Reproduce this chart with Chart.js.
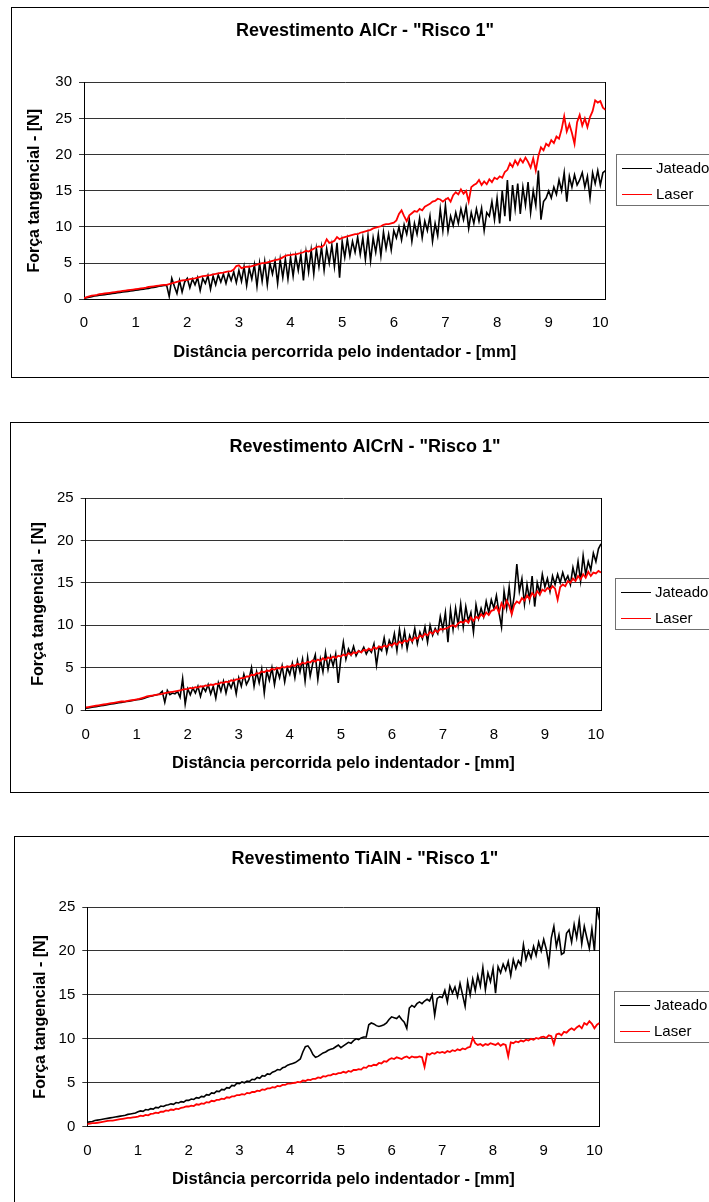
<!DOCTYPE html>
<html>
<head>
<meta charset="utf-8">
<title>Risco 1</title>
<script src="https://cdn.jsdelivr.net/npm/chart.js@4.4.1/dist/chart.umd.min.js"></script>
<style>
  html, body { margin: 0; padding: 0; background: #fff; }
  body { width: 709px; height: 1202px; overflow: hidden; position: relative; }
  .frame { position: absolute; border: 1px solid #000; box-sizing: border-box; width: 740px; height: 371px; }
  .holder { position: absolute; left: 0; width: 730px; height: 371px; }
  .holder canvas { display: block; }
</style>
</head>
<body>
<div class="frame" style="left:11px; top:7px;"></div>
<div class="holder" style="top:7px;"><canvas id="alcrChart" width="730" height="371"></canvas></div>

<div class="frame" style="left:10px; top:422px;"></div>
<div class="holder" style="top:422px;"><canvas id="alcrnChart" width="730" height="371"></canvas></div>

<div class="frame" style="left:14px; top:836px;"></div>
<div class="holder" style="top:836px;"><canvas id="tialnChart" width="730" height="371"></canvas></div>

<script>
// ====== data (force in N, sampled every 0.05 mm from 0 to 10.10 mm) ======
const distanceStep = 0.05;
const distanceTicks = [0, 1, 2, 3, 4, 5, 6, 7, 8, 9, 10];
const forceTicks30 = [0, 5, 10, 15, 20, 25, 30];
const forceTicks25 = [0, 5, 10, 15, 20, 25];
const seriesLabels = ["Jateado", "Laser"];
const seriesColors = ["#000000", "#ff0000"];
const chartTitles = [
  'Revestimento AlCr - "Risco 1"',
  'Revestimento AlCrN - "Risco 1"',
  'Revestimento TiAlN - "Risco 1"'
];
const xAxisTitle = "Distância percorrida pelo indentador - [mm]";
const yAxisTitle = "Força tangencial - [N]";

const alcrJateado = [
  0.1, 0.2, 0.3, 0.35, 0.45, 0.5, 0.55, 0.6, 0.65, 0.7, 0.75, 0.8, 0.85, 0.9, 0.95, 1.0, 1.05, 1.1, 1.15, 1.2,
  1.25, 1.3, 1.35, 1.4, 1.45, 1.5, 1.6, 1.65, 1.7, 1.8, 1.85, 1.9, 1.95, 0.4, 2.9, 1.8, 0.8, 2.6, 1.0, 2.4,
  2.9, 1.6, 2.8, 2.0, 3.0, 1.2, 2.9, 2.2, 3.3, 1.4, 3.2, 2.0, 3.4, 2.4, 3.5, 2.2, 3.6, 2.6, 3.8, 2.3,
  4.0, 2.5, 4.5, 1.9, 4.3, 2.8, 4.8, 1.8, 5.0, 2.5, 5.2, 2.0, 5.0, 3.5, 5.3, 2.2, 5.5, 3.0, 5.6, 2.8,
  5.8, 3.2, 6.0, 4.0, 6.2, 2.6, 6.5, 3.8, 6.8, 3.5, 7.0, 4.5, 7.2, 4.0, 7.0, 5.0, 7.5, 4.5, 7.8, 3.0,
  8.0, 5.8, 8.3, 6.0, 8.0, 6.5, 8.6, 6.2, 8.5, 5.5, 8.8, 5.3, 8.5, 6.5, 9.0, 6.0, 9.3, 7.0, 9.0, 6.8,
  9.5, 8.5, 10.0, 8.2, 10.3, 9.0, 11.0, 8.0, 10.5, 9.0, 11.2, 8.5, 10.8, 9.5, 11.5, 8.0, 10.5, 8.8, 12.5, 9.5,
  13.0, 9.4, 11.5, 10.2, 12.0, 10.5, 12.5, 11.0, 12.8, 9.8, 12.0, 10.5, 12.5, 10.8, 12.6, 9.5, 12.0, 11.5, 13.5, 11.0,
  14.0, 10.5, 15.0, 11.5, 16.5, 10.8, 15.8, 12.5, 16.0, 11.8, 15.5, 13.0, 16.2, 12.0, 15.0, 13.0, 17.8, 11.0, 13.5, 14.0,
  15.0, 14.0, 15.5, 14.5, 16.5, 15.0, 17.5, 13.5, 17.0, 15.5, 17.2, 15.8, 16.5, 17.5, 15.5, 17.0, 14.0, 17.5, 16.0, 17.8,
  15.8, 17.5, 17.8
];
const alcrLaser = [
  0.15, 0.3, 0.4, 0.5, 0.55, 0.6, 0.7, 0.75, 0.8, 0.85, 0.9, 0.95, 1.0, 1.05, 1.1, 1.15, 1.2, 1.25, 1.3, 1.35,
  1.4, 1.45, 1.5, 1.55, 1.6, 1.7, 1.75, 1.8, 1.85, 1.9, 1.95, 2.0, 2.0, 2.1, 2.2, 2.3, 2.4, 2.5, 2.6, 2.65,
  2.7, 2.8, 2.85, 2.9, 3.0, 3.1, 3.2, 3.25, 3.3, 3.35, 3.45, 3.5, 3.6, 3.65, 3.7, 3.8, 3.85, 3.9, 4.1, 4.6,
  4.7, 4.3, 4.4, 4.5, 4.5, 4.6, 4.7, 4.8, 4.9, 5.0, 5.0, 5.1, 5.2, 5.3, 5.4, 5.5, 5.6, 5.8, 6.0, 6.1,
  6.1, 6.2, 6.2, 6.3, 6.4, 6.5, 6.7, 6.6, 6.8, 7.0, 7.2, 7.3, 7.2, 7.5, 8.3, 7.8, 7.9, 8.1, 8.6, 8.3,
  8.5, 8.6, 8.7, 8.8, 8.9, 9.0, 9.0, 9.2, 9.3, 9.4, 9.5, 9.6, 9.8, 9.9, 10.0, 10.1, 10.3, 10.4, 10.4, 10.5,
  10.6, 10.9, 11.8, 12.3, 11.5, 10.8, 11.6, 11.9, 12.2, 12.1, 12.5, 12.3, 12.8, 13.0, 13.2, 13.5, 13.6, 13.9, 13.8, 13.5,
  13.8, 14.0, 13.5, 14.4, 14.8, 14.5, 15.2, 14.6, 15.0, 13.5, 15.5, 15.8, 16.0, 16.5, 15.8, 16.3, 15.9, 16.6, 16.2, 16.8,
  16.6, 17.0, 16.8, 17.6, 17.9, 18.8, 18.3, 19.2, 18.6, 19.4, 18.9, 19.6, 19.0, 18.2, 19.5, 17.8, 19.8, 21.0, 20.6, 21.5,
  21.2, 22.0, 21.6, 22.5, 22.2, 23.5, 25.3, 23.2, 24.2, 23.0, 21.5, 24.5, 25.5, 24.0, 25.0, 23.8, 25.2, 26.0, 27.5, 27.2,
  27.4, 26.5, 26.2
];

const alcrnJateado = [
  0.2, 0.25, 0.3, 0.35, 0.4, 0.45, 0.5, 0.55, 0.6, 0.65, 0.7, 0.75, 0.8, 0.85, 0.9, 0.95, 1.0, 1.05, 1.1, 1.15,
  1.2, 1.25, 1.3, 1.4, 1.5, 1.6, 1.65, 1.75, 1.8, 1.9, 2.2, 0.9, 2.3, 1.8, 2.0, 1.9, 2.2, 1.5, 3.7, 0.7,
  2.5, 1.8, 2.6, 2.0, 2.8, 1.6, 2.7, 2.2, 3.0, 1.9, 2.8, 1.4, 3.2, 2.2, 3.4, 2.0, 3.3, 2.6, 3.5, 1.9,
  3.8, 2.8, 4.2, 3.0, 3.6, 5.0, 2.8, 4.5, 3.2, 4.8, 2.0, 4.6, 3.5, 5.0, 3.0, 4.8, 3.8, 5.2, 3.3, 5.0,
  4.2, 5.5, 3.8, 5.8, 4.5, 6.0, 3.4, 6.2, 4.0, 5.5, 6.5, 3.6, 6.0, 4.5, 6.8, 4.8, 6.3, 5.2, 6.6, 3.2,
  6.0, 8.0, 6.0, 7.2, 6.5, 7.5, 6.4, 7.0, 6.8, 7.4, 6.6, 7.2, 6.8, 7.8, 5.3, 7.4, 7.0, 8.5, 6.8, 8.2,
  7.5, 9.0, 7.0, 9.5, 7.6, 9.3, 7.2, 8.8, 8.0, 9.6, 7.8, 9.2, 8.4, 9.8, 8.0, 10.0, 8.8, 9.6, 9.0, 11.0,
  9.5, 11.5, 8.0, 11.8, 9.5, 12.0, 10.0, 12.5, 9.8, 12.2, 10.5, 11.5, 9.2, 12.4, 10.8, 12.0, 11.0, 12.8, 11.5, 13.0,
  12.0, 13.5, 11.5, 9.8, 14.0, 12.0, 14.5, 11.5, 13.5, 17.2, 14.0, 15.5, 12.5, 14.8, 13.0, 15.8, 12.2, 15.0, 13.8, 16.0,
  14.5, 15.5, 14.0, 15.8, 14.8, 16.0, 15.0, 16.2, 15.2, 15.8, 14.8, 16.8, 15.5, 17.5, 15.2, 18.2, 16.0, 17.5, 16.5, 18.5,
  17.5, 19.0, 19.6
];
const alcrnLaser = [
  0.3, 0.35, 0.4, 0.45, 0.5, 0.55, 0.6, 0.65, 0.7, 0.75, 0.8, 0.85, 0.9, 0.95, 1.0, 1.0, 1.05, 1.1, 1.15, 1.2,
  1.25, 1.3, 1.4, 1.5, 1.6, 1.65, 1.7, 1.75, 1.8, 1.85, 1.9, 2.0, 2.05, 2.1, 2.15, 2.2, 2.25, 2.3, 2.4, 2.45,
  2.5, 2.6, 2.55, 2.7, 2.65, 2.8, 2.75, 2.9, 2.85, 3.0, 2.95, 3.1, 3.05, 3.25, 3.2, 3.35, 3.3, 3.5, 3.45, 3.6,
  3.65, 3.75, 3.75, 3.95, 3.95, 4.15, 4.1, 4.35, 4.3, 4.55, 4.45, 4.65, 4.6, 4.85, 4.75, 4.95, 4.9, 5.1, 5.0, 5.15,
  5.1, 5.3, 5.2, 5.45, 5.35, 5.6, 5.45, 5.7, 5.6, 5.85, 5.7, 5.95, 5.8, 6.1, 5.9, 6.2, 6.05, 6.3, 6.15, 6.4,
  6.3, 6.55, 6.4, 6.7, 6.5, 6.8, 6.7, 6.95, 6.8, 7.1, 7.0, 7.25, 7.05, 7.4, 7.2, 7.5, 7.35, 7.6, 7.45, 7.75,
  7.6, 7.9, 7.7, 8.05, 7.85, 8.2, 8.05, 8.4, 8.15, 8.55, 8.4, 8.8, 8.6, 9.0, 8.8, 9.2, 9.0, 9.4, 9.2, 9.55,
  9.5, 9.6, 9.7, 9.9, 10.0, 9.8, 10.2, 10.4, 10.3, 10.6, 10.3, 10.9, 10.5, 11.0, 10.8, 11.3, 11.0, 11.5, 11.2, 11.7,
  11.8, 12.2, 11.5, 12.6, 12.0, 12.9, 12.3, 11.3, 12.4, 12.8, 12.6, 13.2, 12.9, 13.5, 13.1, 13.8, 13.4, 14.0, 13.6, 14.2,
  14.0, 14.4, 14.2, 14.6, 14.3, 13.0, 14.5, 14.8, 14.6, 15.2, 15.0, 15.5, 15.2, 15.8, 15.4, 16.0, 15.6, 16.3, 15.8, 16.2,
  16.1, 16.4, 16.2
];

const tialnJateado = [
  0.5, 0.55, 0.6, 0.7, 0.75, 0.8, 0.85, 0.9, 0.95, 1.0, 1.05, 1.1, 1.15, 1.2, 1.25, 1.3, 1.4, 1.45, 1.5, 1.55,
  1.7, 1.8, 1.75, 1.95, 1.9, 2.05, 2.0, 2.2, 2.15, 2.35, 2.3, 2.45, 2.5, 2.6, 2.55, 2.75, 2.7, 2.85, 2.8, 3.0,
  3.0, 3.15, 3.1, 3.3, 3.25, 3.45, 3.4, 3.65, 3.6, 3.85, 3.8, 4.05, 4.0, 4.25, 4.2, 4.45, 4.4, 4.7, 4.65, 4.95,
  4.9, 5.1, 5.0, 5.2, 5.15, 5.4, 5.35, 5.6, 5.5, 5.8, 5.75, 6.0, 5.95, 6.2, 6.3, 6.5, 6.45, 6.7, 6.8, 7.0,
  7.1, 7.2, 7.3, 7.5, 7.7, 8.5, 9.1, 9.2, 8.8, 8.2, 7.9, 8.0, 8.2, 8.4, 8.5, 8.7, 8.8, 8.9, 9.1, 9.3,
  9.0, 9.2, 9.4, 9.6, 9.5, 9.8, 10.0, 9.9, 10.1, 10.2, 10.2, 11.6, 11.8, 11.7, 11.5, 11.4, 11.5, 11.6, 11.8, 12.2,
  12.5, 12.4, 12.3, 12.6, 12.2, 11.9, 11.2, 13.5, 13.8, 13.6, 14.0, 14.2, 14.0, 14.3, 14.5, 14.3, 15.0, 12.7, 14.6, 14.8,
  14.7, 15.5, 14.2, 16.0, 15.2, 15.9, 14.8, 16.3, 15.0, 13.7, 16.5, 15.0, 16.8, 15.5, 17.2, 16.0, 18.1, 15.6, 17.5, 16.5,
  18.0, 15.2, 18.2, 17.5, 18.5, 17.8, 18.8, 17.2, 19.0, 18.0, 18.9, 18.4, 20.7, 19.0, 20.0, 19.2, 20.5, 19.5, 21.0, 20.0,
  21.3, 20.2, 18.5, 21.5, 22.8, 20.5, 21.8, 19.6, 19.8, 22.0, 22.4, 21.0, 23.0, 21.5, 23.5, 20.8, 22.8, 21.5, 20.3, 22.5,
  20.0, 24.9, 23.5
];
const tialnLaser = [
  0.3, 0.35, 0.4, 0.4, 0.45, 0.5, 0.55, 0.6, 0.65, 0.7, 0.7, 0.75, 0.8, 0.85, 0.9, 0.95, 1.0, 1.0, 1.05, 1.1,
  1.15, 1.25, 1.2, 1.35, 1.3, 1.45, 1.5, 1.6, 1.55, 1.7, 1.7, 1.85, 1.8, 1.95, 1.9, 2.05, 2.0, 2.15, 2.2, 2.3,
  2.3, 2.4, 2.35, 2.55, 2.5, 2.65, 2.6, 2.8, 2.75, 2.95, 2.9, 3.05, 3.05, 3.2, 3.15, 3.35, 3.3, 3.45, 3.45, 3.6,
  3.6, 3.7, 3.65, 3.85, 3.8, 3.95, 3.95, 4.1, 4.05, 4.25, 4.2, 4.35, 4.35, 4.5, 4.45, 4.65, 4.6, 4.75, 4.75, 4.9,
  4.9, 4.95, 5.0, 5.1, 5.05, 5.25, 5.2, 5.35, 5.3, 5.45, 5.45, 5.6, 5.55, 5.75, 5.7, 5.85, 5.85, 6.0, 5.95, 6.1,
  6.1, 6.25, 6.15, 6.35, 6.25, 6.45, 6.45, 6.55, 6.5, 6.75, 6.7, 6.95, 6.9, 7.05, 7.0, 7.25, 7.2, 7.45, 7.4, 7.65,
  7.8, 7.7, 7.9, 7.8, 7.7, 7.9, 8.0, 7.8, 8.0, 7.9, 7.9, 8.0, 7.9, 6.8, 8.3, 8.2, 8.4, 8.3, 8.5, 8.4,
  8.5, 8.4, 8.6, 8.5, 8.7, 8.6, 8.8, 8.7, 8.9, 8.8, 9.0, 9.1, 10.1, 9.5, 9.3, 9.4, 9.2, 9.4, 9.3, 9.5,
  9.4, 9.3, 9.5, 9.2, 9.4, 9.3, 8.0, 9.6, 9.5, 9.7, 9.6, 9.8, 9.7, 9.9, 9.8, 10.0, 9.9, 10.1, 10.0, 10.2,
  10.25, 10.1, 10.4, 10.3, 9.4, 10.5, 10.6, 10.4, 10.8, 10.7, 11.0, 11.2, 11.0, 11.3, 11.5, 11.2, 11.8, 11.6, 12.0, 11.7,
  11.2, 11.6, 11.8
];

const FONT = "'Liberation Sans', Arial, sans-serif";

function toPoints(values) {
  return values.map((v, i) => ({ x: Math.round(i * distanceStep * 100) / 100, y: v }));
}

// legend drawn in a grey box to the right of the plot, like the original sheet
const boxLegend = {
  id: "boxLegend",
  afterDraw(chart, args, opts) {
    const ctx = chart.ctx;
    ctx.save();
    ctx.strokeStyle = "#707070";
    ctx.lineWidth = 1;
    ctx.strokeRect(Math.round(opts.left) + 0.5, Math.round(opts.top) + 0.5, 200, opts.height);
    chart.data.datasets.forEach((ds, i) => {
      const y = Math.round(opts.top + 14 + i * 26) + 0.5;
      ctx.strokeStyle = ds.borderColor;
      ctx.lineWidth = 1;
      ctx.beginPath();
      ctx.moveTo(opts.left + 6, y);
      ctx.lineTo(opts.left + 36, y);
      ctx.stroke();
      ctx.fillStyle = "#000";
      ctx.font = "15px " + FONT;
      ctx.textBaseline = "middle";
      ctx.fillText(ds.label, opts.left + 40, y);
    });
    ctx.restore();
  }
};

function makeChart(canvasId, title, jateado, laser, yTicks, g) {
  const W = 730, H = 371;
  const titleSize = 18;
  const titleLH = titleSize * 1.2;
  const titlePadTop = g.titleY - titleLH / 2;
  const xAxisH = 70;

  new Chart(document.getElementById(canvasId), {
    type: "line",
    data: {
      datasets: [
        { label: seriesLabels[0], data: toPoints(jateado), borderColor: seriesColors[0], borderWidth: 1.6, order: 2 },
        { label: seriesLabels[1], data: toPoints(laser), borderColor: seriesColors[1], borderWidth: 1.8, order: 1 }
      ]
    },
    options: {
      responsive: false,
      animation: false,
      devicePixelRatio: 1,
      events: [],
      layout: { padding: { left: 0, right: 0, top: 0, bottom: H - g.plotB - xAxisH } },
      elements: { point: { radius: 0 }, line: { tension: 0 } },
      plugins: {
        legend: { display: false },
        tooltip: { enabled: false },
        title: {
          display: true,
          text: title,
          color: "#000",
          font: { family: FONT, size: titleSize, weight: "bold", lineHeight: 1.2 },
          padding: { top: titlePadTop, bottom: g.plotT - titlePadTop - titleLH }
        },
        boxLegend: { left: g.legendL, top: g.legendT, height: 51 }
      },
      scales: {
        x: {
          type: "linear",
          min: 0,
          max: 10.1,
          afterBuildTicks: s => { s.ticks = distanceTicks.map(v => ({ value: v })); },
          afterFit: s => { s.height = xAxisH; },
          grid: { display: false, drawTicks: false },
          border: { color: "#000", width: 1 },
          ticks: {
            color: "#000",
            font: { family: FONT, size: 15 },
            padding: g.xLabelY - g.plotB - 9,
            maxRotation: 0,
            autoSkip: false
          },
          title: {
            display: true,
            text: xAxisTitle,
            color: "#000",
            font: { family: FONT, size: 16.5, weight: "bold" },
            padding: { top: 0, bottom: 7 }
          }
        },
        y: {
          min: 0,
          max: yTicks[yTicks.length - 1],
          afterBuildTicks: s => { s.ticks = yTicks.map(v => ({ value: v })); },
          afterFit: s => { s.width = g.plotL; },
          grid: { color: "#333", lineWidth: 1, tickLength: 5 },
          border: { color: "#000", width: 1 },
          ticks: { color: "#000", font: { family: FONT, size: 15 }, padding: 7 },
          title: {
            display: true,
            text: yAxisTitle,
            color: "#000",
            font: { family: FONT, size: 16, weight: "bold" },
            padding: { top: g.yTitleX - 9.6, bottom: 0 }
          }
        },
        // empty right axis: closes the plot frame and reserves room for the legend
        yr: {
          position: "right",
          min: 0,
          max: 1,
          afterFit: s => { s.width = W - g.plotR; },
          grid: { display: false },
          ticks: { display: false },
          border: { color: "#000", width: 1 }
        }
      }
    },
    plugins: [boxLegend]
  });
}

// ====== AlCr ======
makeChart("alcrChart", chartTitles[0], alcrJateado, alcrLaser, forceTicks30, {
  plotL: 84, plotR: 605.5, plotT: 75.3, plotB: 292.3,
  titleY: 24, xLabelY: 315.5, yTitleX: 35, legendL: 616, legendT: 147
});

// ====== AlCrN ======
makeChart("alcrnChart", chartTitles[1], alcrnJateado, alcrnLaser, forceTicks25, {
  plotL: 85.7, plotR: 601, plotT: 76, plotB: 288,
  titleY: 24.7, xLabelY: 313, yTitleX: 38.5, legendL: 615, legendT: 155.7
});

// ====== TiAlN ======
makeChart("tialnChart", chartTitles[2], tialnJateado, tialnLaser, forceTicks25, {
  plotL: 87.3, plotR: 599.5, plotT: 71, plotB: 290.7,
  titleY: 23, xLabelY: 314.7, yTitleX: 40.7, legendL: 614, legendT: 155
});
</script>
</body>
</html>
